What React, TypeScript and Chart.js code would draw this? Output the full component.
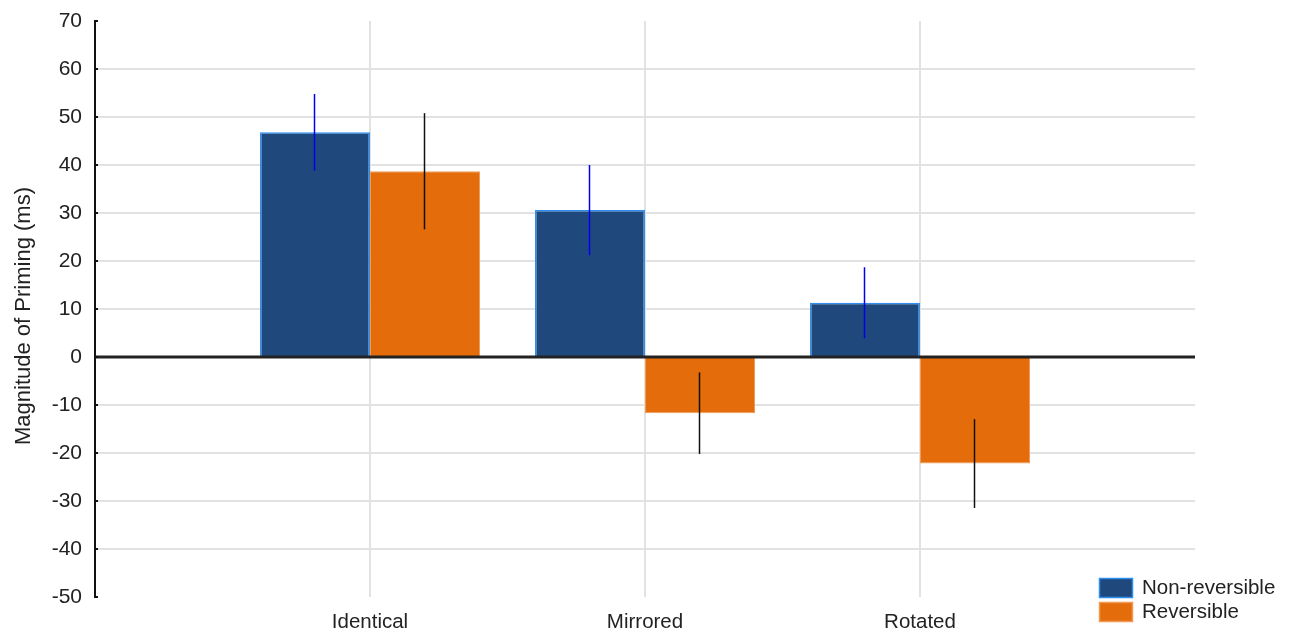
import React, { useEffect, useRef } from "react";
import { Chart, registerables } from "chart.js";

Chart.register(...registerables);

const categories = ["Identical", "Mirrored", "Rotated"];
const seriesNames = ["Non-reversible", "Reversible"];
const nonReversible = [46.8, 30.6, 11.3];
const reversible = [38.7, -11.7, -22.2];
const nonReversibleErr = [8.0, 9.4, 7.4];
const reversibleErr = [12.1, 8.5, 9.25];
const yTicks = [-50, -40, -30, -20, -10, 0, 10, 20, 30, 40, 50, 60, 70];

const FONT = "'Liberation Sans', Arial, sans-serif";
const NR_FILL = "#1f497d";
const NR_BORDER = "#2f8ff0";
const R_FILL = "#e46c0a";
const R_BORDER = "#f29a55";
const ERR_COLORS = ["#0000ee", "#111111"];

const pad = (arr: (number | string)[], fill: any) => [fill, ...arr, fill];

export default function App() {
  const ref = useRef<HTMLCanvasElement | null>(null);

  useEffect(() => {
    if (!ref.current) return;
    const errs = [pad(nonReversibleErr, null), pad(reversibleErr, null)];

    const overlay = {
      id: "overlay",
      afterDatasetsDraw(chart: any) {
        const { ctx, chartArea, scales } = chart;
        const y = scales.y;
        ctx.save();
        // zero line
        const y0 = y.getPixelForValue(0);
        ctx.strokeStyle = "#222";
        ctx.lineWidth = 3;
        ctx.beginPath();
        ctx.moveTo(chartArea.left, y0);
        ctx.lineTo(chartArea.right, y0);
        ctx.stroke();
        // error bars
        chart.data.datasets.forEach((ds: any, di: number) => {
          const meta = chart.getDatasetMeta(di);
          meta.data.forEach((el: any, i: number) => {
            const v = ds.data[i];
            const e = errs[di][i];
            if (v == null || e == null) return;
            const x = Math.round(el.x) - 0.5;
            ctx.strokeStyle = ERR_COLORS[di];
            ctx.lineWidth = 1.5;
            ctx.beginPath();
            ctx.moveTo(x, y.getPixelForValue(v + e));
            ctx.lineTo(x, y.getPixelForValue(v - e));
            ctx.stroke();
          });
        });
        // small inward ticks on y axis
        ctx.strokeStyle = "#111";
        ctx.lineWidth = 2;
        yTicks.forEach((t) => {
          const py = y.getPixelForValue(t);
          ctx.beginPath();
          ctx.moveTo(chartArea.left - 1, py);
          ctx.lineTo(chartArea.left + 3, py);
          ctx.stroke();
        });
        ctx.restore();
      },
      afterDraw(chart: any) {
        const { ctx } = chart;
        ctx.save();
        // y title
        ctx.fillStyle = "#222";
        ctx.font = `22px ${FONT}`;
        ctx.textAlign = "center";
        ctx.textBaseline = "middle";
        ctx.translate(24, 316);
        ctx.rotate(-Math.PI / 2);
        ctx.fillText("Magnitude of Priming (ms)", 0, 0);
        ctx.restore();
        // legend
        ctx.save();
        const items = [
          { fill: NR_FILL, border: NR_BORDER, label: seriesNames[0], y: 578 },
          { fill: R_FILL, border: R_BORDER, label: seriesNames[1], y: 602 },
        ];
        items.forEach((it) => {
          ctx.fillStyle = it.fill;
          ctx.fillRect(1099, it.y, 34, 20);
          ctx.strokeStyle = it.border;
          ctx.lineWidth = 1.5;
          ctx.strokeRect(1099.5, it.y + 0.5, 33, 19);
          ctx.fillStyle = "#222";
          ctx.font = `20.5px ${FONT}`;
          ctx.textAlign = "left";
          ctx.textBaseline = "middle";
          ctx.fillText(it.label, 1142, it.y + 10);
        });
        ctx.restore();
      },
    };

    const chart = new Chart(ref.current, {
      type: "bar",
      data: {
        labels: pad(categories, "") as string[],
        datasets: [
          {
            label: seriesNames[0],
            data: pad(nonReversible, null) as any,
            backgroundColor: NR_FILL,
            borderColor: NR_BORDER,
            borderWidth: 1.5,
            categoryPercentage: 0.8,
            barPercentage: 1.0,
          },
          {
            label: seriesNames[1],
            data: pad(reversible, null) as any,
            backgroundColor: R_FILL,
            borderColor: R_BORDER,
            borderWidth: 1,
            categoryPercentage: 0.8,
            barPercentage: 1.0,
          },
        ],
      },
      options: {
        animation: false,
        responsive: false,
        layout: { padding: { top: 21, right: 96, left: 0, bottom: 0 } },
        plugins: { legend: { display: false }, tooltip: { enabled: false } },
        scales: {
          x: {
            offset: false,
            grid: {
              offset: false,
              drawTicks: false,
              lineWidth: 2,
              color: (c: any) =>
                c.index === 0 || c.index === categories.length + 1 ? "rgba(0,0,0,0)" : "#e2e2e2",
            },
            border: { display: false },
            ticks: {
              padding: 13,
              color: "#222",
              font: { family: FONT, size: 20.5 },
              autoSkip: false,
              maxRotation: 0,
            },
            afterFit: (s: any) => {
              s.height = 35;
              s.paddingLeft = 0;
              s.paddingRight = 0;
            },
          },
          y: {
            min: -50,
            max: 70,
            afterBuildTicks: (s: any) => {
              s.ticks = yTicks.map((v) => ({ value: v }));
            },
            grid: {
              drawTicks: false,
              lineWidth: 2,
              color: (c: any) => {
                const v = c.tick ? c.tick.value : null;
                return v === 70 || v === -50 || v === 0 ? "rgba(0,0,0,0)" : "#e2e2e2";
              },
            },
            border: { display: true, color: "#111", width: 2 },
            ticks: {
              padding: 13,
              color: "#222",
              font: { family: FONT, size: 21 },
            },
            afterFit: (s: any) => {
              s.width = 95;
              s.paddingTop = 0;
              s.paddingBottom = 0;
            },
          },
        },
      },
      plugins: [overlay],
    });
    return () => chart.destroy();
  }, []);

  return (
    <div style={{ position: "fixed", left: 0, top: 0, width: 1291, height: 632, background: "#fff" }}>
      <canvas ref={ref} width={1291} height={632} style={{ width: 1291, height: 632 }} />
    </div>
  );
}
